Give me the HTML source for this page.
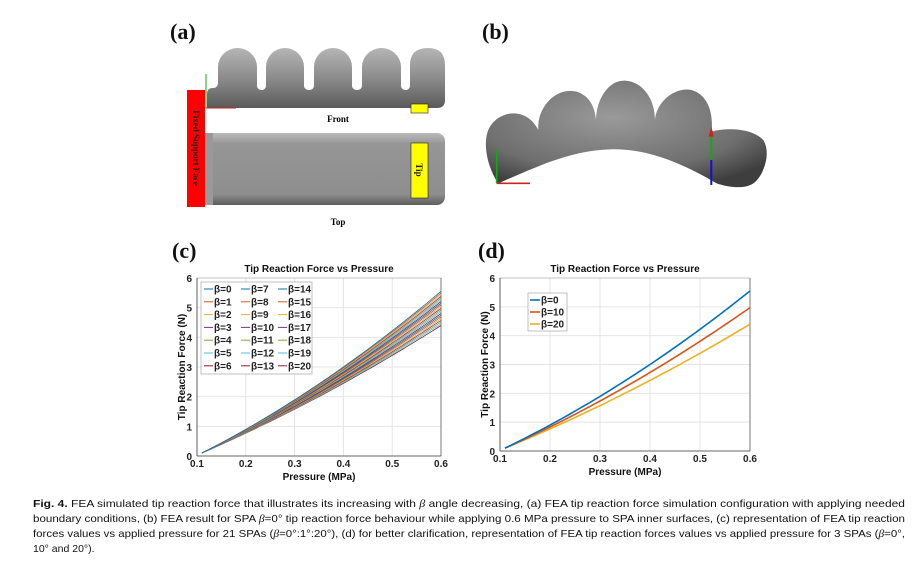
<!DOCTYPE html>
<html><head><meta charset="utf-8"><style>
html,body{margin:0;padding:0;background:#fff;}
svg{display:block;}
.lab{font-family:"Liberation Serif",serif;font-weight:bold;font-size:22px;fill:#111;}
.tk{font-family:"Liberation Sans",sans-serif;font-weight:bold;font-size:10px;fill:#222;}
.ti{font-family:"Liberation Sans",sans-serif;font-weight:bold;font-size:10px;fill:#111;}
.cap{font-family:"Liberation Sans Narrow","Liberation Sans",sans-serif;font-size:10.5px;fill:#111;}
.lg{font-family:"Liberation Sans",sans-serif;font-weight:bold;font-size:10px;fill:#222;}
</style></head><body>
<svg id="s" width="921" height="563" viewBox="0 0 921 563" xmlns="http://www.w3.org/2000/svg">
<defs>
<linearGradient id="gv" x1="0" y1="0" x2="0" y2="1"><stop offset="0" stop-color="#b5b5b5"/><stop offset="0.5" stop-color="#8c8c8c"/><stop offset="1" stop-color="#5a5a5a"/></linearGradient>
<linearGradient id="gt" x1="0" y1="0" x2="0" y2="1"><stop offset="0" stop-color="#bbb"/><stop offset="0.15" stop-color="#969696"/><stop offset="0.85" stop-color="#8e8e8e"/><stop offset="1" stop-color="#5e5e5e"/></linearGradient>
<radialGradient id="gb" cx="0.45" cy="0.35" r="0.7"><stop offset="0" stop-color="#9a9a9a"/><stop offset="0.7" stop-color="#6e6e6e"/><stop offset="1" stop-color="#3e3e3e"/></radialGradient>
</defs>
<!-- (a) -->
<text class="lab" x="170" y="39">(a)</text>
<path d="M207,108 L207,94 Q207,88 213,88 Q218,88 218,82 L218,67 A19.5,19 0 0 1 257,67 L257,86 A4.5,4 0 0 0 266,86 L266,67 A19,19 0 0 1 304,67 L304,86 A5,4 0 0 0 314,86 L314,67 A19,19 0 0 1 352,67 L352,86 A5,4 0 0 0 362,86 L362,67 A19.5,19 0 0 1 401,67 L401,86 A4.5,4 0 0 0 410,86 L410,65 Q410,48 428,48 Q445,48 445,65 L445,100 Q445,108 437,108 Z" fill="url(#gv)"/>
<rect x="411" y="104" width="17" height="9" fill="#ff0" stroke="#222" stroke-width="0.6"/>
<rect x="187" y="90" width="18" height="117" fill="#f00"/>
<text transform="translate(193,148) rotate(90)" text-anchor="middle" font-family="Liberation Serif,serif" font-weight="bold" font-size="9" fill="#222">Fixed Support Face</text>
<line x1="206" y1="108" x2="206" y2="74" stroke="#1a1" stroke-width="1"/>
<line x1="206" y1="108" x2="236" y2="108" stroke="#c22" stroke-width="1"/>
<rect x="205" y="133" width="240" height="72" rx="8" fill="url(#gt)"/>
<rect x="205" y="133" width="8" height="72" fill="#999"/>
<rect x="411" y="143" width="17" height="55" fill="#ff0" stroke="#222" stroke-width="0.6"/>
<text transform="translate(416,170) rotate(90)" text-anchor="middle" font-family="Liberation Serif,serif" font-weight="bold" font-size="9" fill="#222">Tip</text>
<text x="338" y="122" text-anchor="middle" font-family="Liberation Serif,serif" font-weight="bold" font-size="9">Front</text>
<text x="338" y="225" text-anchor="middle" font-family="Liberation Serif,serif" font-weight="bold" font-size="9">Top</text>
<!-- (b) -->
<text class="lab" x="482" y="39">(b)</text>
<g transform="translate(470,20) scale(0.3333)">
<path d="M85,490 C50,440 35,360 60,320 C90,270 170,260 205,330 C200,260 260,200 320,215 C365,230 375,270 378,300 C380,230 420,180 465,182 C520,185 555,240 555,300 C560,240 620,200 665,210 C715,225 730,280 725,335 C760,325 840,320 880,360 C905,400 880,470 850,490 C820,510 770,500 740,490 C620,420 520,385 420,388 C300,392 200,440 85,490 Z" fill="url(#gb)"/>
<line x1="80" y1="490" x2="80" y2="390" stroke="#1a1" stroke-width="5"/>
<line x1="80" y1="490" x2="180" y2="490" stroke="#c22" stroke-width="5"/>
<line x1="724" y1="495" x2="724" y2="420" stroke="#11c" stroke-width="6"/>
<line x1="724" y1="420" x2="724" y2="345" stroke="#1a1" stroke-width="6"/>
<path d="M716,350 L724,320 L732,350 Z" fill="#c22"/>
</g>
<!-- (c) -->
<text class="lab" x="172" y="258">(c)</text>
<g id="pc"></g>
<!-- (d) -->
<text class="lab" x="478" y="258">(d)</text>
<g id="pd"></g>
<!-- caption -->
<text class="cap" x="33" y="507" textLength="872" lengthAdjust="spacingAndGlyphs"><tspan font-weight="bold">Fig. 4.</tspan>  FEA simulated tip reaction force that illustrates its increasing with <tspan font-style="italic" font-family="Liberation Serif,serif">β</tspan> angle decreasing, (a) FEA tip reaction force simulation configuration with applying needed</text>
<text class="cap" x="33" y="522" textLength="872" lengthAdjust="spacingAndGlyphs">boundary conditions, (b) FEA result for SPA <tspan font-style="italic" font-family="Liberation Serif,serif">β</tspan>=0° tip reaction force behaviour while applying 0.6 MPa pressure to SPA inner surfaces, (c) representation of FEA tip reaction</text>
<text class="cap" x="33" y="537" textLength="872" lengthAdjust="spacingAndGlyphs">forces values vs applied pressure for 21 SPAs (<tspan font-style="italic" font-family="Liberation Serif,serif">β</tspan>=0°:1°:20°), (d) for better clarification, representation of FEA tip reaction forces values vs applied pressure for 3 SPAs (<tspan font-style="italic" font-family="Liberation Serif,serif">β</tspan>=0°,</text>
<text class="cap" x="33" y="552">10° and 20°).</text>
</svg>
<script>
var NS="http://www.w3.org/2000/svg";
function el(p,t,a,txt){var e=document.createElementNS(NS,t);for(var k in a)e.setAttribute(k,a[k]);if(txt!==undefined)e.textContent=txt;p.appendChild(e);return e;}
var C=["#0072BD","#D95319","#EDB120","#7E2F8E","#77AC30","#4DBEEE","#A2142F"];
function F(p,b){var t=p-0.11,f=b/20;var a=8.38+(7.12-8.38)*f,q=5.6+(3.37-5.6)*f;return 0.1+a*t+q*t*t;}
function plot(g,L,R,T,B,betas,lw,leg){
 var X=function(p){return L+(p-0.1)/0.5*(R-L);},Y=function(v){return B-v/6*(B-T);};
 for(var i=0;i<=5;i++){var x=X(0.1+i*0.1);el(g,"line",{x1:x,y1:T,x2:x,y2:B,stroke:"#e4e4e4","stroke-width":1});
  el(g,"text",{class:"tk",x:x,y:B+11,"text-anchor":"middle"},(0.1+i*0.1).toFixed(1));}
 for(var j=0;j<=6;j++){var y=Y(j);el(g,"line",{x1:L,y1:y,x2:R,y2:y,stroke:"#e4e4e4","stroke-width":1});
  el(g,"text",{class:"tk",x:L-5,y:y+4,"text-anchor":"end"},j);}
 el(g,"rect",{x:L,y:T,width:R-L,height:B-T,fill:"none",stroke:"#bbb","stroke-width":0.8});
 el(g,"line",{x1:L,y1:T,x2:L,y2:B,stroke:"#444","stroke-width":0.8});
 el(g,"line",{x1:L,y1:B,x2:R,y2:B,stroke:"#444","stroke-width":0.8});
 el(g,"line",{x1:R,y1:T,x2:R,y2:B,stroke:"#666","stroke-width":0.8});
 betas.forEach(function(b,k){var d="";for(var p=0.11;p<=0.6001;p+=0.01){d+=(d?"L":"M")+X(p).toFixed(1)+","+Y(F(p,b)).toFixed(1);}
  el(g,"path",{d:d,fill:"none",stroke:leg.colors(b,k),"stroke-width":lw});});
 el(g,"text",{class:"ti",x:(L+R)/2,y:T-6,"text-anchor":"middle"},"Tip Reaction Force vs Pressure");
 el(g,"text",{class:"ti",x:(L+R)/2,y:B+24,"text-anchor":"middle"},"Pressure (MPa)");
 el(g,"text",{class:"ti",transform:"translate("+(L-12)+","+((T+B)/2)+") rotate(-90)","text-anchor":"middle"},"Tip Reaction Force (N)");
}
var gc=document.getElementById("pc");
var all=[];for(var b=20;b>=0;b--)all.push(b);
plot(gc,197,441,278,456,all,0.8,{colors:function(b){return C[b%7];}});
el(gc,"rect",{x:201,y:282,width:111,height:92,fill:"#fff",stroke:"#999","stroke-width":0.6});
for(var r=0;r<7;r++)for(var c=0;c<3;c++){var bb=c*7+r,x=204+c*37,y=292+r*12.8;
 el(gc,"line",{x1:x,y1:y-3,x2:x+9,y2:y-3,stroke:C[r],"stroke-width":1});
 el(gc,"text",{class:"lg",x:x+10,y:y+0.5},"β="+bb);}
var gd=document.getElementById("pd");
var dc={0:C[0],10:C[1],20:C[2]};
plot(gd,500,750,278,451,[20,10,0],1.6,{colors:function(b){return dc[b];}});
el(gd,"rect",{x:528,y:293,width:39,height:38,fill:"#fff",stroke:"#999","stroke-width":0.6});
[0,10,20].forEach(function(b,i){var y=303+i*12;el(gd,"line",{x1:530,y1:y-3,x2:540,y2:y-3,stroke:dc[b],"stroke-width":1.6});
 el(gd,"text",{class:"lg",x:541,y:y+0.5},"β="+b);});
</script>
</body></html>
